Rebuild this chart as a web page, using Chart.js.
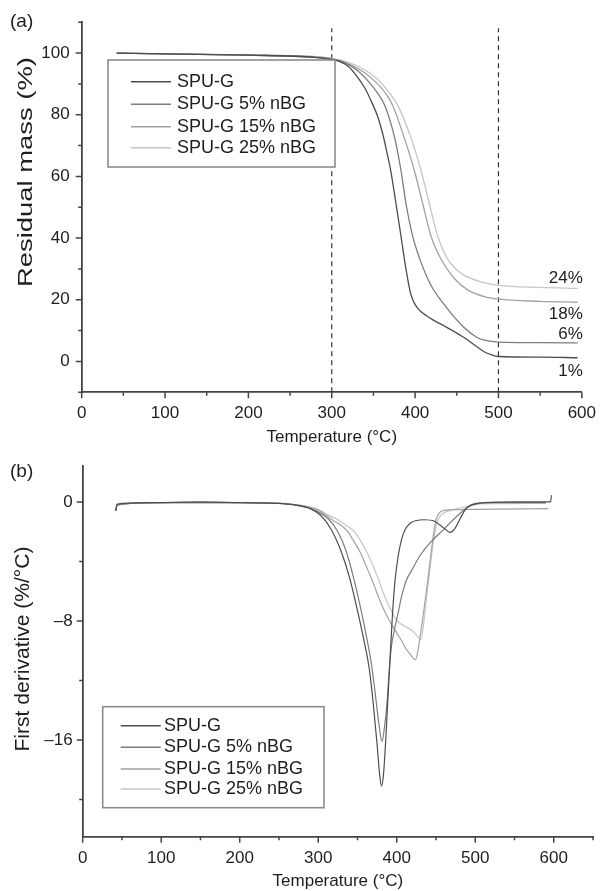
<!DOCTYPE html>
<html>
<head>
<meta charset="utf-8">
<script src="https://cdn.jsdelivr.net/npm/chart.js@4.4.1/dist/chart.umd.min.js"></script>
<style>
  body { margin: 0; background: #fff; }
  #wrapA { position: absolute; left: 0; top: 0; width: 607px; height: 446px; }
  #wrapB { position: absolute; left: 0; top: 446px; width: 607px; height: 445px; }
</style>
</head>
<body>
<div id="wrapA"><canvas id="tga" width="607" height="446"></canvas></div>
<div id="wrapB"><canvas id="dtg" width="607" height="445"></canvas></div>
<script>
// series names + grey levels
const seriesNames = ['SPU-G', 'SPU-G 5% nBG', 'SPU-G 15% nBG', 'SPU-G 25% nBG'];
const seriesColors = ['#4d4d4d', '#7c7c7c', '#a2a2a2', '#c6c6c6'];

// (a) residual mass (%) vs temperature
const tgaTempG   = [42, 100, 200, 280, 300, 310, 320, 330, 340, 348, 355, 361, 366, 371, 377, 383, 389, 395, 403, 415, 439, 459, 475, 484, 491, 500, 550, 595];
const tgaMassG   = [100, 99.7, 99.3, 98.6, 97.9, 97.2, 95.6, 92.5, 88.5, 84, 79.5, 74, 68, 61.5, 51.3, 40.7, 30, 21.6, 17.3, 14.6, 10.9, 7.7, 4.6, 3, 2.2, 1.6, 1.4, 1.2];
const tgaTemp5   = [42, 100, 200, 280, 300, 315, 330, 345, 355, 363.5, 375.5, 383, 389, 397, 407, 419, 435, 455, 475, 485, 491, 500, 550, 595];
const tgaMass5   = [100, 99.7, 99.3, 98.6, 98, 97, 94.5, 90.5, 87, 83.1, 72.5, 62, 51.3, 40.7, 32.2, 24.7, 18.4, 12, 7.7, 6.8, 6.5, 6.3, 6.1, 6.0];
const tgaTemp15  = [42, 100, 200, 280, 300, 320, 340, 355, 365, 373, 387, 399, 409, 419, 431, 447, 463, 483, 500, 550, 595];
const tgaMass15  = [100, 99.7, 99.4, 98.8, 98.2, 96.5, 93.5, 90, 86.8, 83.1, 72.5, 62, 51.3, 40.7, 33.2, 26.9, 23.2, 21, 20.2, 19.5, 19.2];
const tgaTemp25  = [42, 100, 200, 280, 300, 320, 340, 355, 368, 379, 395, 407, 417, 427, 439, 449, 459, 479, 500, 550, 595];
const tgaMass25  = [100, 99.7, 99.4, 98.8, 98.3, 97, 94.5, 91.5, 87.5, 83.1, 72.5, 62, 51.3, 40.7, 33.2, 30, 27.9, 25.8, 24.7, 24, 23.7];
const endLabels = ['1%', '6%', '18%', '24%'];
const dashTemps = [300, 500];

// (b) first derivative (%/°C) vs temperature
const dtgTempG  = [42, 44, 80, 150, 200, 250, 270, 290, 303, 316, 329, 340, 350, 359, 365, 370, 375, 378, 380.5, 383, 386, 389, 392, 395, 398, 402, 408, 418, 435, 448, 461, 468, 474, 480, 487, 495, 512, 550, 596, 597];
const dtgValG   = [-0.6, -0.15, -0.05, 0, -0.05, -0.1, -0.2, -0.45, -0.9, -1.8, -3.3, -5.1, -7.3, -9.5, -11.2, -13.5, -16.3, -18.2, -19.1, -18.4, -16, -13, -10, -7.2, -5.2, -3.6, -2.2, -1.4, -1.2, -1.3, -1.8, -2.05, -1.8, -1.2, -0.55, -0.2, -0.05, 0, 0, 0.45];
const dtgTemp5  = [42, 44, 100, 200, 250, 270, 290, 312, 325, 335.5, 346, 354.7, 362.4, 367.5, 372, 377, 381.2, 384, 387, 390, 393, 397, 402, 406, 412, 419, 431, 444, 457, 470, 483, 491, 505, 520, 590];
const dtgVal5   = [-0.6, -0.2, -0.05, -0.05, -0.1, -0.2, -0.45, -1.1, -2.0, -3.3, -5.3, -7.3, -9.3, -10.8, -12.6, -14.8, -16.1, -15.3, -13.9, -11.7, -9.8, -8.6, -7.4, -6.4, -5.3, -4.6, -3.5, -2.65, -2.0, -1.3, -0.66, -0.33, -0.1, -0.05, -0.05];
const dtgTemp15 = [42, 44, 100, 200, 250, 280, 300, 310, 320.5, 330, 337.6, 346, 354.7, 361, 367.5, 374, 380.3, 386, 393, 400, 405.9, 411, 416.5, 421, 424, 427, 430, 434, 439, 442, 446, 450, 455, 462, 500, 593];
const dtgVal15  = [-0.6, -0.2, -0.05, -0.05, -0.1, -0.25, -0.55, -0.9, -1.3, -1.6, -2.0, -2.7, -3.5, -4.3, -5.1, -6.0, -6.85, -7.5, -8.2, -8.8, -9.3, -9.8, -10.2, -10.5, -10.6, -10.0, -9.0, -7.5, -5.5, -4.2, -2.5, -1.2, -0.7, -0.55, -0.5, -0.45];
const dtgTemp25 = [42, 44, 100, 200, 250, 280, 300, 312, 324.8, 335, 346, 355, 363, 370, 376, 382, 388.9, 393, 397.3, 403, 410, 415, 420.9, 425, 429, 431, 434, 438, 442, 447, 452, 457, 470, 485, 500, 520, 590];
const dtgVal25  = [-0.6, -0.2, -0.05, -0.05, -0.1, -0.25, -0.5, -0.85, -1.2, -1.55, -2.0, -2.7, -3.5, -4.3, -5.1, -6.0, -6.85, -7.3, -7.75, -8.1, -8.35, -8.5, -8.7, -8.95, -9.2, -9.24, -8.3, -6.4, -4.6, -2.6, -1.3, -0.85, -0.55, -0.35, -0.18, -0.12, -0.1];

// axis ticks
const tgaXLabels = [0, 100, 200, 300, 400, 500, 600];
const tgaXMinor  = [50, 150, 250, 350, 450, 550];
const tgaYLabels = [0, 20, 40, 60, 80, 100];
const tgaYMinor  = [-10, 10, 30, 50, 70, 90, 110];
const dtgXLabels = [0, 100, 200, 300, 400, 500, 600];
const dtgXMinor  = [50, 150, 250, 350, 450, 550, 650];
const dtgYLabels = [0, -8, -16];
const dtgYMinor  = [-20, -12, -4];

const FONT = '"Liberation Sans", Arial, Helvetica, sans-serif';
const TEXT = '#1e1e1e';
const AXIS = '#444';

function pts(xs, ys) {
    return xs.map((x, i) => ({ x: x, y: ys[i] }));
}

// ticks, titles, legend and labels drawn on top
const decor = {
    id: 'decor',
    afterDraw(chart, args, o) {
        const ctx = chart.ctx, xs = chart.scales.x, ys = chart.scales.y, a = chart.chartArea;
        ctx.save();
        ctx.strokeStyle = AXIS;
        ctx.lineWidth = 1.5;
        ctx.beginPath();
        o.xMajor.forEach(v => { const p = xs.getPixelForValue(v); ctx.moveTo(p, a.bottom); ctx.lineTo(p, a.bottom + 6); });
        o.xMinor.forEach(v => { const p = xs.getPixelForValue(v); ctx.moveTo(p, a.bottom); ctx.lineTo(p, a.bottom + 3.5); });
        o.yMajor.forEach(v => { const p = ys.getPixelForValue(v); ctx.moveTo(a.left, p); ctx.lineTo(a.left - 6, p); });
        o.yMinor.forEach(v => { const p = ys.getPixelForValue(v); ctx.moveTo(a.left, p); ctx.lineTo(a.left - 3.5, p); });
        ctx.stroke();

        // panel letter
        ctx.fillStyle = TEXT;
        ctx.font = '19px ' + FONT;
        ctx.textAlign = 'left';
        ctx.textBaseline = 'middle';
        ctx.fillText(o.panel, 10, o.panelY);

        // rotated y title, stretched to the length seen in the figure
        ctx.save();
        ctx.font = o.yTitleSize + 'px ' + FONT;
        ctx.translate(o.yTitleX, o.yTitleY);
        ctx.rotate(-Math.PI / 2);
        const tw = ctx.measureText(o.yTitle).width;
        ctx.scale(o.yTitleLen / tw, 1);
        ctx.textAlign = 'center';
        ctx.fillText(o.yTitle, 0, 0);
        ctx.restore();

        // legend box
        const L = o.legend;
        ctx.fillStyle = '#fff';
        ctx.fillRect(L.x, L.y, L.w, L.h);
        ctx.strokeStyle = '#8c8c8c';
        ctx.lineWidth = 1.6;
        ctx.strokeRect(L.x, L.y, L.w, L.h);
        ctx.font = '18px ' + FONT;
        for (let i = 0; i < seriesNames.length; i++) {
            const ry = L.rows[i];
            ctx.strokeStyle = seriesColors[i];
            ctx.lineWidth = 1.4;
            ctx.beginPath();
            ctx.moveTo(L.lx0, ry);
            ctx.lineTo(L.lx1, ry);
            ctx.stroke();
            ctx.fillStyle = TEXT;
            ctx.textAlign = 'left';
            ctx.fillText(seriesNames[i], L.tx, ry);
        }

        // end-of-curve residue labels
        if (o.endLabels) {
            ctx.font = '17px ' + FONT;
            ctx.textAlign = 'right';
            ctx.fillStyle = TEXT;
            o.endLabels.forEach((txt, i) => {
                const d = chart.data.datasets[i].data;
                const last = d[d.length - 1];
                ctx.fillText(txt, xs.getPixelForValue(600) + 1, ys.getPixelForValue(last.y) + o.endOffsets[i]);
            });
        }
        ctx.restore();
    }
};

function axisOpts(min, max, step, labels, fmt, pad) {
    return {
        type: 'linear', min: min, max: max,
        grid: { display: true, drawOnChartArea: false, drawTicks: false },
        border: { display: true, color: AXIS, width: 1.8 },
        ticks: {
            stepSize: step, autoSkip: false, maxRotation: 0, padding: pad,
            color: TEXT, font: { family: FONT, size: 17 },
            callback: v => labels.includes(v) ? fmt(v) : ''
        }
    };
}

function seriesSets(list) {
    return list.map((d, i) => ({
        label: seriesNames[i], data: d,
        borderColor: seriesColors[i], borderWidth: 1.3,
        pointRadius: 0, fill: false, cubicInterpolationMode: 'monotone'
    }));
}

// (a)
const tgaSets = seriesSets([pts(tgaTempG, tgaMassG), pts(tgaTemp5, tgaMass5), pts(tgaTemp15, tgaMass15), pts(tgaTemp25, tgaMass25)]);
dashTemps.forEach(t => tgaSets.push({
    label: 'dash', data: [{ x: t, y: -10 }, { x: t, y: 108 }],
    borderColor: '#333', borderWidth: 1.2, borderDash: [5, 4], pointRadius: 0, fill: false
}));

const xa = axisOpts(0, 600, 50, tgaXLabels, v => String(v), 11);
xa.title = { display: true, text: 'Temperature (\u00b0C)', color: TEXT, font: { family: FONT, size: 17, lineHeight: 1 }, padding: { top: 0, bottom: 0.5 } };
xa.afterFit = s => { s.height = 53.7; };
const ya = axisOpts(-10, 110, 10, tgaYLabels, v => String(v), 12);
ya.afterFit = s => { s.width = 81.7; };

new Chart(document.getElementById('tga'), {
    type: 'line',
    data: { datasets: tgaSets },
    plugins: [decor],
    options: {
        responsive: false, animation: false,
        layout: { padding: { left: 0, top: 15.4, right: 18, bottom: 0 } },
        scales: { x: xa, y: ya },
        plugins: {
            legend: { display: false }, tooltip: { enabled: false },
            decor: {
                panel: '(a)', panelY: 22,
                yTitle: 'Residual mass (%)', yTitleSize: 20, yTitleX: 26, yTitleY: 172, yTitleLen: 230,
                xMajor: tgaXLabels, xMinor: tgaXMinor, yMajor: tgaYLabels, yMinor: tgaYMinor,
                legend: { x: 108, y: 60, w: 227, h: 107, rows: [81.7, 104.3, 126.7, 147.7], lx0: 131, lx1: 171, tx: 177 },
                endLabels: endLabels, endOffsets: [13.5, -9, 12.5, -10]
            }
        }
    }
});

// (b)
const dtgSets = seriesSets([pts(dtgTempG, dtgValG), pts(dtgTemp5, dtgVal5), pts(dtgTemp15, dtgVal15), pts(dtgTemp25, dtgVal25)]);
dtgSets.forEach(s => { s.borderWidth = 1.2; });

const xb = axisOpts(0, 650, 50, dtgXLabels, v => String(v), 11);
xb.title = { display: true, text: 'Temperature (\u00b0C)', color: TEXT, font: { family: FONT, size: 17, lineHeight: 1 }, padding: { top: 0, bottom: 1.5 } };
xb.afterFit = s => { s.height = 54.3; };
const yb = axisOpts(-22.5, 2.4, 4, dtgYLabels, v => v < 0 ? '\u2013' + Math.abs(v) : String(v), 10);
yb.afterFit = s => { s.width = 82.7; };

new Chart(document.getElementById('dtg'), {
    type: 'line',
    data: { datasets: dtgSets },
    plugins: [decor],
    options: {
        responsive: false, animation: false,
        layout: { padding: { left: 0, top: 14, right: 14, bottom: 0 } },
        scales: { x: xb, y: yb },
        plugins: {
            legend: { display: false }, tooltip: { enabled: false },
            decor: {
                panel: '(b)', panelY: 26,
                yTitle: 'First derivative (%/\u00b0C)', yTitleSize: 20, yTitleX: 23, yTitleY: 203, yTitleLen: 205,
                xMajor: dtgXLabels, xMinor: dtgXMinor, yMajor: dtgYLabels, yMinor: dtgYMinor,
                legend: { x: 102.7, y: 260.7, w: 221.3, h: 101, rows: [279.7, 301.3, 323, 343], lx0: 120.7, lx1: 160.7, tx: 164 },
                endLabels: null
            }
        }
    }
});
</script>
</body>
</html>
